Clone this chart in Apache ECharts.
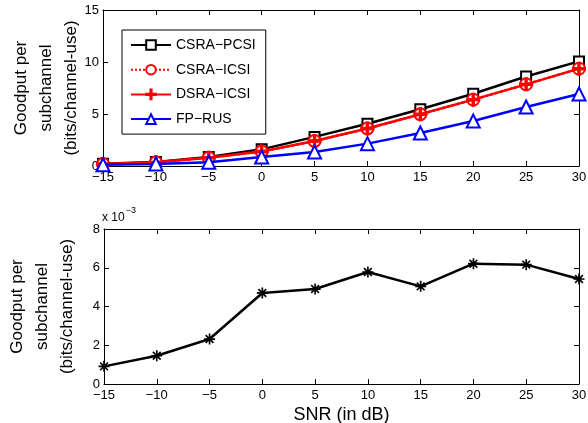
<!DOCTYPE html>
<html><head><meta charset="utf-8">
<script src="https://cdn.jsdelivr.net/npm/echarts@6/dist/echarts.min.js"></script>
<style>html,body{margin:0;padding:0;background:#fff}#c{width:588px;height:423px}</style>
</head><body><div id="c"></div>
<script>
const snr = [-15, -10, -5, 0, 5, 10, 15, 20, 25, 30];
const csraPcsi = [0.22, 0.38, 0.87, 1.6, 2.8, 4.07, 5.45, 6.95, 8.6, 10.06];
const csraIcsi = [0.2, 0.35, 0.8, 1.4, 2.4, 3.6, 4.97, 6.38, 7.85, 9.36];
const dsraIcsi = [0.2, 0.35, 0.8, 1.4, 2.4, 3.6, 4.97, 6.38, 7.85, 9.36];
const fpRus = [0.12, 0.2, 0.35, 0.87, 1.35, 2.15, 3.17, 4.33, 5.67, 6.92];
const diffGoodput = [0.00091, 0.00146, 0.00232, 0.0047, 0.0049, 0.00578, 0.00504, 0.00621, 0.00616, 0.00542];
const seriesNames = ['CSRA\u2212PCSI', 'CSRA\u2212ICSI', 'DSRA\u2212ICSI', 'FP\u2212RUS'];
const yName = 'Goodput per\nsubchannel\n(bits/channel-use)';
const xName = 'SNR (in dB)';

const FONT = "'Liberation Sans', Arial, sans-serif";
const pair = (xs, ys) => xs.map((x, i) => [x, ys[i]]);
const minus = v => String(v).replace('-', '\u2212');
const plusPath = 'path://M-0.12,-1 L0.12,-1 L0.12,-0.12 L1,-0.12 L1,0.12 L0.12,0.12 L0.12,1 L-0.12,1 L-0.12,0.12 L-1,0.12 L-1,-0.12 L-0.12,-0.12 Z';
const starPath = 'path://M-1,-0.15 L1,-0.15 L1,0.15 L-1,0.15 Z M-0.15,-1 L0.15,-1 L0.15,1 L-0.15,1 Z M-0.6,-0.81 L0.81,0.6 L0.6,0.81 L-0.81,-0.6 Z M0.6,-0.81 L0.81,-0.6 L-0.6,0.81 L-0.81,0.6 Z';

function xAx(grid, main) {
  return {
    type: 'value', gridIndex: grid, min: -15, max: 30, interval: 5,
    position: main ? 'bottom' : 'top',
    name: (main && grid === 1) ? xName : '', nameLocation: 'middle', nameGap: 22,
    nameMoveOverlap: false,
    nameTextStyle: { fontFamily: FONT, fontSize: 18, color: '#000' },
    axisLine: { show: true, onZero: false, lineStyle: { color: '#000', width: 1 } },
    axisTick: { show: true, inside: true, length: 5, lineStyle: { color: '#000' } },
    axisLabel: { show: main, margin: 5, color: '#000', fontFamily: FONT, fontSize: 13, formatter: minus },
    splitLine: { show: false }
  };
}
function yAx(grid, main, max, interval, fmt, gap) {
  return {
    type: 'value', gridIndex: grid, min: 0, max: max, interval: interval,
    position: main ? 'left' : 'right',
    name: main ? yName : '', nameLocation: 'middle', nameGap: gap, nameRotate: 90,
    nameMoveOverlap: false,
    nameTextStyle: { fontFamily: FONT, fontSize: 17, color: '#000', lineHeight: 25 },
    axisLine: { show: true, onZero: false, lineStyle: { color: '#000', width: 1 } },
    axisTick: { show: true, inside: true, length: 5, lineStyle: { color: '#000' } },
    axisLabel: { show: main, margin: 4, color: '#000', fontFamily: FONT, fontSize: 13, formatter: fmt },
    splitLine: { show: false }
  };
}
function lineSeries(name, data, color, symbol, size, lineType, z) {
  return {
    type: 'line', name: name, xAxisIndex: 0, yAxisIndex: 0, data: data,
    symbol: symbol, symbolSize: size, z: z,
    lineStyle: { color: color, width: 2.5, type: lineType },
    itemStyle: { color: color, borderColor: color, borderWidth: 2 },
    animation: false
  };
}

const chart = echarts.init(document.getElementById('c'), null, { renderer: 'canvas' });
chart.setOption({
  backgroundColor: '#fff',
  animation: false,
  grid: [
    { left: 103, right: 9, top: 10, height: 156, outerBoundsMode: 'none', containLabel: false },
    { left: 104, right: 9, top: 229, height: 155, outerBoundsMode: 'none', containLabel: false }
  ],
  xAxis: [xAx(0, true), xAx(0, false), xAx(1, true), xAx(1, false)],
  yAxis: [
    yAx(0, true, 15, 5, v => v, 19),
    yAx(0, false, 15, 5, v => v, 19),
    yAx(1, true, 0.008, 0.002, v => Math.round(v * 1000), 24),
    yAx(1, false, 0.008, 0.002, v => Math.round(v * 1000), 24)
  ],
  legend: {
    orient: 'vertical', left: 122, top: 30,
    data: seriesNames,
    itemWidth: 40, itemHeight: 12, itemGap: 10.7,
    padding: [8, 10, 8, 8],
    borderColor: '#000', borderWidth: 1, backgroundColor: '#fff',
    textStyle: { fontFamily: FONT, fontSize: 14, color: '#000' },
    inactiveColor: '#000', selectedMode: false
  },
  graphic: [{
    type: 'text', left: 102, top: 206,
    style: {
      text: '{a|x 10}{b|\u22123}', fill: '#000',
      rich: {
        a: { fontFamily: FONT, fontSize: 12, fill: '#000', padding: [6, 0, 0, 0] },
        b: { fontFamily: FONT, fontSize: 9, fill: '#000', padding: [0, 0, 8, 1] }
      }
    }
  }],
  series: [
    lineSeries(seriesNames[0], pair(snr, csraPcsi), '#000', 'emptyRect', 10, 'solid', 2),
    lineSeries(seriesNames[1], pair(snr, csraIcsi), '#ff0000', 'emptyCircle', 12, 'dotted', 3),
    lineSeries(seriesNames[2], pair(snr, dsraIcsi), '#ff0000', plusPath, 12, 'solid', 4),
    lineSeries(seriesNames[3], pair(snr, fpRus), '#0000ff', 'emptyTriangle', 13, 'solid', 5),
    {
      type: 'line', name: 'diff', xAxisIndex: 2, yAxisIndex: 2,
      data: pair(snr, diffGoodput), symbol: starPath, symbolSize: 11,
      lineStyle: { color: '#000', width: 2.5 },
      itemStyle: { color: '#000' }, animation: false
    }
  ]
});
</script></body></html>
